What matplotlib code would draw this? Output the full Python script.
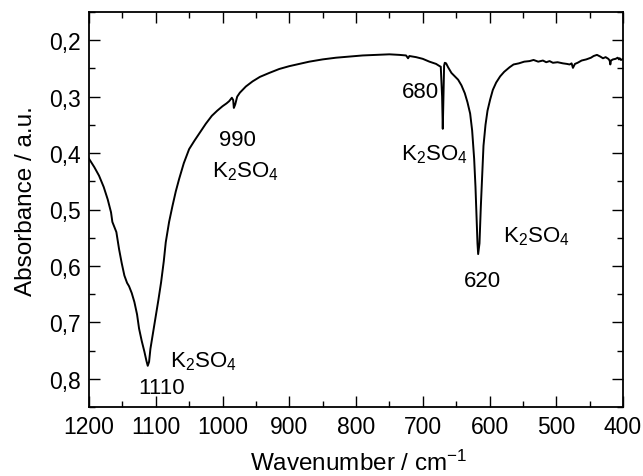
import numpy as np
import matplotlib
matplotlib.use('Agg')
import matplotlib.pyplot as plt
from matplotlib.ticker import MultipleLocator, FuncFormatter

plt.rcParams['font.family'] = ['Liberation Sans', 'DejaVu Sans']
plt.rcParams['mathtext.fontset'] = 'custom'
plt.rcParams['mathtext.rm'] = 'Liberation Sans'
plt.rcParams['mathtext.it'] = 'Liberation Sans'
plt.rcParams['mathtext.default'] = 'regular'

# spectrum (wavenumber, absorbance)
wavenumber = [1200, 1192, 1185, 1178, 1172, 1167, 1165, 1162, 1159, 1155, 1151, 1147,
              1143, 1140, 1136, 1132, 1128, 1125, 1121, 1117, 1114, 1112,
              1110, 1108, 1104, 1100, 1096, 1092, 1088, 1085, 1080, 1075, 1070,
              1065, 1058, 1050, 1042, 1034, 1025, 1016, 1008, 1000, 994, 990,
              986, 984, 983, 981, 978, 974, 965, 955, 944, 930, 915, 900, 885,
              870, 850, 830, 810, 790, 770, 750, 735, 725, 722, 720, 710, 700,
              690, 685, 680, 676, 673, 671, 670, 669, 668, 667, 665, 662, 657,
              652, 647, 642, 637, 633, 629, 626, 623, 621, 619, 618, 617, 615,
              613, 611, 609, 606, 603, 599, 595, 590, 584, 578, 570, 564, 556,
              548, 540, 534, 527, 520, 515, 510, 505, 498, 490, 484, 480, 477,
              475, 472, 468, 462, 455, 448, 444, 439, 434, 430, 426, 422, 420,
              419, 418, 415, 411, 408, 406, 405, 403, 400]
absorbance = [0.410, 0.425, 0.440, 0.460, 0.482, 0.505, 0.522, 0.531, 0.540, 0.570, 0.595, 0.617,
              0.630, 0.636, 0.648, 0.664, 0.686, 0.711, 0.733, 0.752, 0.768, 0.777,
              0.770, 0.747, 0.718, 0.688, 0.660, 0.629, 0.592, 0.558, 0.522, 0.494, 0.468,
              0.446, 0.418, 0.393, 0.378, 0.364, 0.348, 0.334, 0.325, 0.317, 0.312, 0.308,
              0.302, 0.306, 0.320, 0.314, 0.300, 0.293, 0.282, 0.273, 0.265, 0.258, 0.251, 0.246, 0.242,
              0.238, 0.234, 0.231, 0.229, 0.227, 0.226, 0.225, 0.226, 0.227, 0.232, 0.228, 0.230, 0.233,
              0.238, 0.240, 0.242, 0.245, 0.247, 0.300, 0.357, 0.300, 0.245, 0.240, 0.241, 0.248, 0.258,
              0.264, 0.270, 0.280, 0.294, 0.310, 0.330, 0.360, 0.410, 0.460, 0.530, 0.560, 0.579, 0.560,
              0.495, 0.440, 0.387, 0.350, 0.325, 0.305, 0.288, 0.275, 0.264, 0.256, 0.248, 0.243, 0.241,
              0.238, 0.237, 0.235, 0.238, 0.236, 0.239, 0.237, 0.240, 0.239, 0.241, 0.242, 0.243, 0.241,
              0.249, 0.242, 0.240, 0.236, 0.234, 0.231, 0.228, 0.226, 0.229, 0.232, 0.230, 0.233, 0.236,
              0.243, 0.236, 0.234, 0.233, 0.231, 0.234, 0.232, 0.235, 0.233]

# annotations: text, wavenumber, absorbance
labels = ['990', 'K$_2$SO$_4$', '680', 'K$_2$SO$_4$', 'K$_2$SO$_4$', '620', 'K$_2$SO$_4$', '1110']
label_x = [977, 965, 704, 683, 529, 611, 1028, 1091]
label_y = [0.376, 0.432, 0.291, 0.402, 0.547, 0.625, 0.768, 0.816]

fig = plt.figure(figsize=(6.43, 4.77), dpi=100)
ax = fig.add_axes([89 / 643, 1 - 408 / 477, 534 / 643, 395 / 477])

ax.plot(wavenumber, absorbance, color='black', linewidth=1.4)

ax.set_xlim(1200, 400)
ax.set_ylim(0.85, 0.15)
ax.xaxis.set_major_locator(MultipleLocator(100))
ax.xaxis.set_minor_locator(MultipleLocator(50))
ax.yaxis.set_major_locator(MultipleLocator(0.1))
ax.yaxis.set_minor_locator(MultipleLocator(0.05))
ax.yaxis.set_major_formatter(FuncFormatter(lambda v, p: ('%.1f' % v).replace('.', ',')))

ax.tick_params(which='both', direction='in', top=True, right=True, width=1, labelsize=16.5)
ax.tick_params(which='major', length=8, pad=6)
ax.tick_params(which='minor', length=4)
for s in ax.spines.values():
    s.set_linewidth(1.3)

ax.set_xlabel('Wavenumber / cm$^{-1}$', fontsize=17.5)
ax.set_ylabel('Absorbance / a.u.', fontsize=17.5)
ax.xaxis.set_label_coords(0.505, -0.107)
ax.yaxis.set_label_coords(-0.097, 0.524)

for t, x, y in zip(labels, label_x, label_y):
    ax.text(x, y, t, fontsize=16, ha='center', va='center')

fig.savefig('out.png', dpi=100)
